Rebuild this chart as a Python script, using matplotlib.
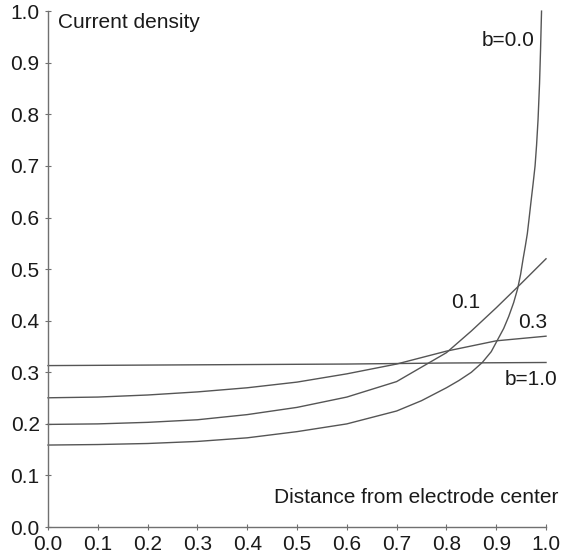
import numpy as np
import matplotlib
matplotlib.use("Agg")
import matplotlib.pyplot as plt

plt.rcParams["font.family"] = ["Liberation Sans", "DejaVu Sans"]

# distance from electrode center (normalised) and current density per b
x_b00 = [0.0, 0.1, 0.2, 0.3, 0.4, 0.5, 0.6, 0.7, 0.75, 0.8, 0.825, 0.85,
         0.872, 0.89, 0.9, 0.915, 0.925, 0.935, 0.943, 0.949, 0.954, 0.9585,
         0.9625, 0.966, 0.970, 0.974, 0.978, 0.981, 0.984, 0.987, 0.989, 0.991]
y_b00 = [0.159, 0.160, 0.162, 0.166, 0.173, 0.185, 0.200, 0.225, 0.245,
         0.270, 0.284, 0.300, 0.319, 0.340, 0.358, 0.385, 0.408, 0.435,
         0.462, 0.490, 0.520, 0.545, 0.569, 0.598, 0.632, 0.665, 0.700,
         0.740, 0.790, 0.860, 0.925, 1.000]

x_b01 = [0.0, 0.1, 0.2, 0.3, 0.4, 0.5, 0.6, 0.7, 0.75, 0.8, 0.85, 0.9, 0.95, 1.0]
y_b01 = [0.199, 0.200, 0.203, 0.208, 0.218, 0.232, 0.252, 0.282, 0.310,
         0.338, 0.380, 0.425, 0.472, 0.520]

x_b03 = [0.0, 0.1, 0.2, 0.3, 0.4, 0.5, 0.6, 0.7, 0.8, 0.9, 1.0]
y_b03 = [0.2506, 0.252, 0.256, 0.262, 0.270, 0.281, 0.297, 0.316, 0.341,
         0.361, 0.370]

x_b10 = [0.0, 0.2, 0.4, 0.6, 0.8, 1.0]
y_b10 = [0.313, 0.314, 0.315, 0.316, 0.318, 0.319]

ticks = [0.0, 0.1, 0.2, 0.3, 0.4, 0.5, 0.6, 0.7, 0.8, 0.9, 1.0]

line_kw = dict(color="#555555", lw=1.0, clip_on=False)
txt_kw = dict(fontsize=15, color="#1a1a1a")

fig = plt.figure(figsize=(5.61, 5.56), dpi=100)
ax = fig.add_axes([0.0856, 0.052, 0.8877, 0.928])

ax.plot(x_b00, y_b00, **line_kw)
ax.plot(x_b01, y_b01, **line_kw)
ax.plot(x_b03, y_b03, **line_kw)
ax.plot(x_b10, y_b10, **line_kw)

ax.set_xlim(0, 1)
ax.set_ylim(0, 1)
ax.set_xticks(ticks)
ax.set_yticks(ticks)
ax.set_xticklabels([f"{t:.1f}" for t in ticks])
ax.set_yticklabels([f"{t:.1f}" for t in ticks])
for s in ("top", "right"):
    ax.spines[s].set_visible(False)
for s in ("left", "bottom"):
    ax.spines[s].set_color("#707070")
    ax.spines[s].set_linewidth(1.0)
ax.tick_params(direction="inout", length=4, width=0.8, color="#707070",
               labelsize=15, labelcolor="#1a1a1a")
ax.tick_params(axis="x", pad=4)
ax.tick_params(axis="y", pad=4)

ax.text(0.02, 0.977, "Current density", ha="left", va="center", **txt_kw)
ax.text(1.024, 0.058, "Distance from electrode center", ha="right",
        va="center", clip_on=False, **txt_kw)
ax.text(0.976, 0.944, "b=0.0", ha="right", va="center", **txt_kw)
ax.text(0.838, 0.436, "0.1", ha="center", va="center", **txt_kw)
ax.text(0.974, 0.397, "0.3", ha="center", va="center", **txt_kw)
ax.text(0.918, 0.287, "b=1.0", ha="left", va="center", clip_on=False, **txt_kw)

fig.savefig("out.png", dpi=100)
